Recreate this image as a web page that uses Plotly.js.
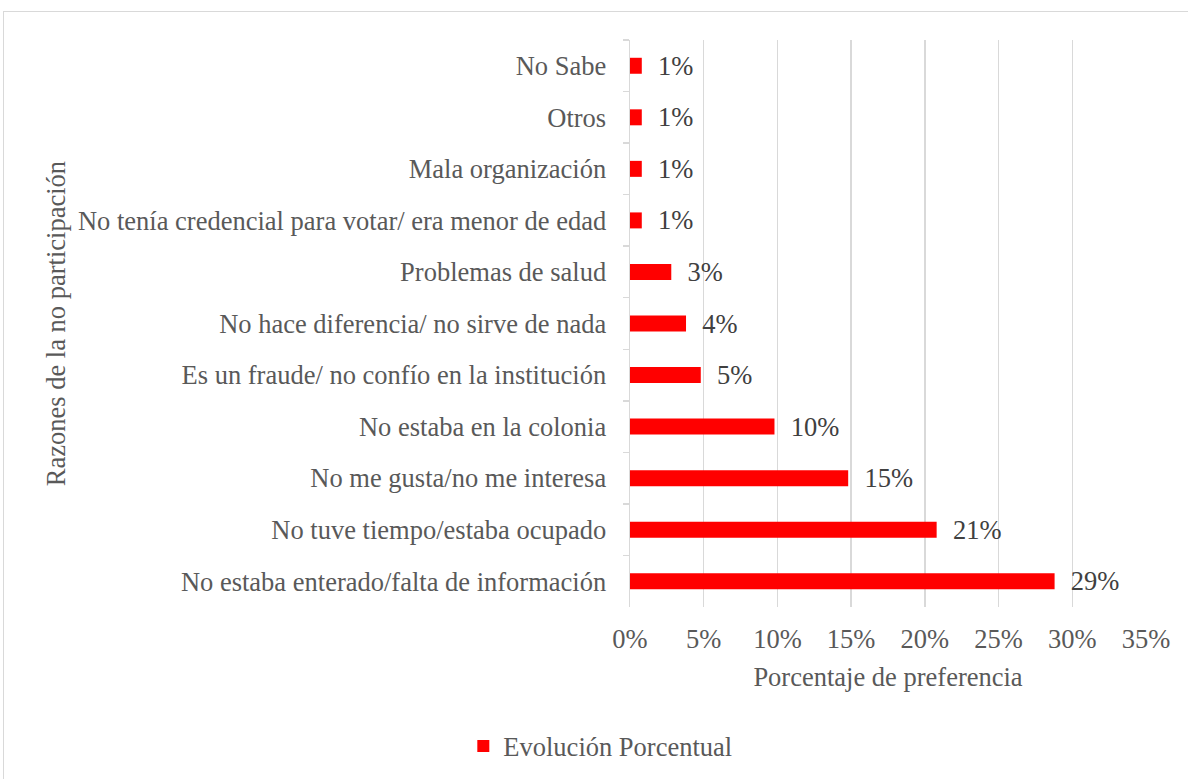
<!DOCTYPE html>
<html>
<head>
<meta charset="utf-8">
<script src="https://cdn.plot.ly/plotly-3.0.1.min.js"></script>
<style>
  html, body { margin: 0; padding: 0; background: #fff; }
  #frame { position: absolute; left: 3px; top: 11px; width: 1200px; height: 800px; border: 1.5px solid #d9d9d9; }
  #chart { position: absolute; left: 0; top: 0; width: 1188px; height: 779px; }
</style>
</head>
<body>
<div id="frame"></div>
<div id="chart"></div>
<script>
const categories = [
  "No Sabe",
  "Otros",
  "Mala organización",
  "No tenía credencial para votar/ era menor de edad",
  "Problemas de salud",
  "No hace diferencia/ no sirve de nada",
  "Es un fraude/ no confío en la institución",
  "No estaba en la colonia",
  "No me gusta/no me interesa",
  "No tuve tiempo/estaba ocupado",
  "No estaba enterado/falta de información"
];
const values = [0.8, 0.8, 0.8, 0.8, 2.8, 3.8, 4.8, 9.8, 14.8, 20.8, 28.8];
const seriesName = "Evolución Porcentual";
const xTicks = [0, 5, 10, 15, 20, 25, 30, 35];
const xTickLabels = ["0%", "5%", "10%", "15%", "20%", "25%", "30%", "35%"];
const yTitle = "Razones de la no participación";
const xTitle = "Porcentaje de preferencia";

const FONT = "'Liberation Serif', 'Times New Roman', serif";
const GREY = "#595959";
const FS = 26.5;

const trace = {
  type: "bar",
  orientation: "h",
  name: seriesName,
  x: values,
  y: categories,
  marker: { color: "#ff0000" },
  texttemplate: "\u00a0\u00a0%{x:.0f}%",
  textposition: "outside",
  constraintext: "none",
  cliponaxis: false,
  textfont: { family: FONT, size: FS, color: "#404040" },
  hoverinfo: "skip",
  showlegend: true
};

const layout = {
  width: 1188,
  height: 779,
  paper_bgcolor: "rgba(0,0,0,0)",
  plot_bgcolor: "rgba(0,0,0,0)",
  margin: { l: 630, r: 42, t: 40, b: 172 },
  bargap: 0.69,
  font: { family: FONT, size: FS, color: GREY },
  xaxis: {
    range: [0, 35],
    tickvals: xTicks,
    ticktext: xTickLabels,
    showgrid: true,
    gridcolor: "#d9d9d9",
    gridwidth: 1.5,
    zeroline: false,
    showline: false,
    ticks: "",
    ticklabelstandoff: 13,
    tickfont: { family: FONT, size: FS, color: GREY },
    title: { text: xTitle, font: { family: FONT, size: FS, color: GREY }, standoff: 14 }
  },
  yaxis: {
    type: "category",
    categoryorder: "array",
    categoryarray: categories,
    autorange: "reversed",
    showline: true,
    linecolor: "#d9d9d9",
    linewidth: 1.5,
    ticks: "outside",
    tickson: "boundaries",
    ticklen: 6,
    tickcolor: "#d9d9d9",
    tickwidth: 1.5,
    ticklabelstandoff: 17,
    showgrid: false,
    tickfont: { family: FONT, size: FS, color: GREY }
  },
  annotations: [{
    text: yTitle,
    xref: "paper",
    yref: "paper",
    x: -1.113,
    y: 0.5,
    xanchor: "center",
    yanchor: "middle",
    textangle: -90,
    showarrow: false,
    font: { family: FONT, size: FS, color: GREY }
  }],
  legend: {
    orientation: "h",
    xref: "container",
    yref: "container",
    x: 0.39,
    xanchor: "left",
    y: 0.042,
    yanchor: "middle",
    font: { family: FONT, size: FS, color: GREY }
  },
  showlegend: true
};

Plotly.newPlot("chart", [trace], layout, { displayModeBar: false, staticPlot: true });
</script>
</body>
</html>
